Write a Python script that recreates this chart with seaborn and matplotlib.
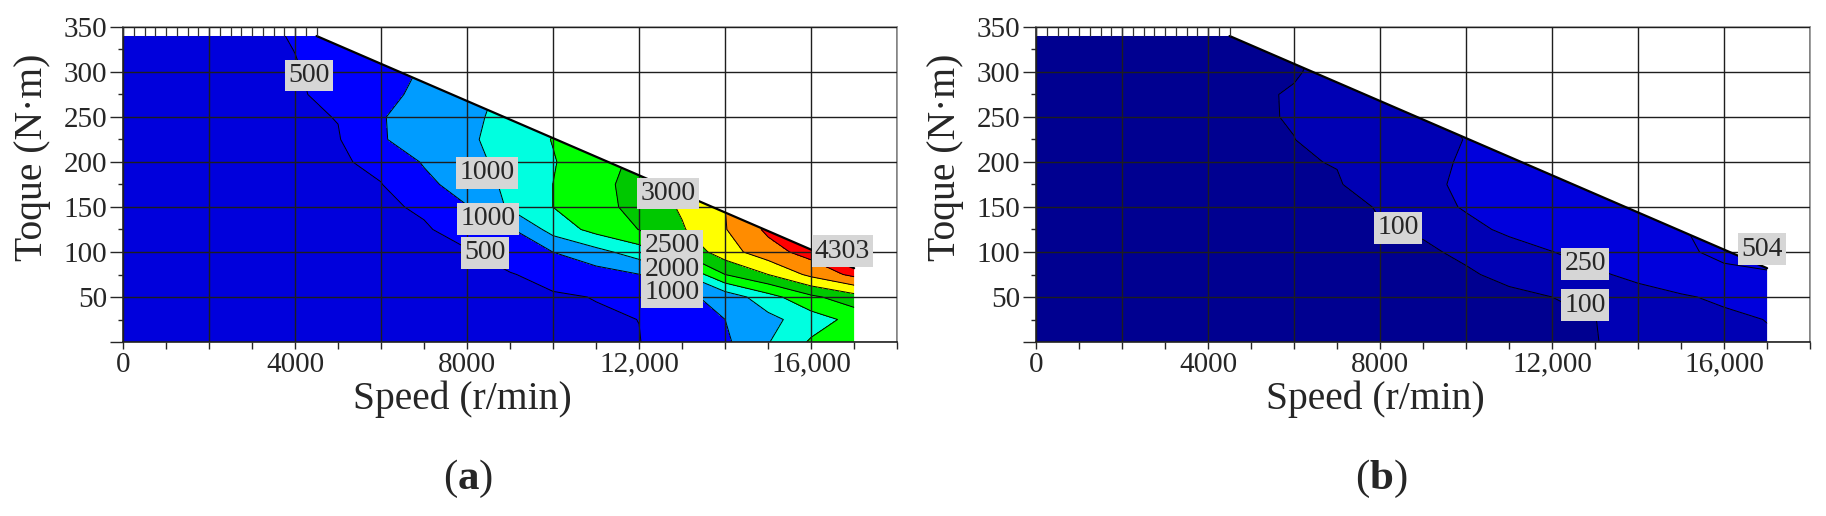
import numpy as np
import matplotlib
matplotlib.use("Agg")
import matplotlib.pyplot as plt
from matplotlib.patches import Polygon
from matplotlib.ticker import MultipleLocator, FuncFormatter
import seaborn as sns

# grid (speed in r/min, torque in N·m)
speed_rpm = [0, 1000, 2000, 3000, 4000, 5000, 6000, 7000, 8000,
             9000, 10000, 11000, 12000, 13000, 14000, 15000, 16000, 17000]
torque_nm = [0, 25, 50, 75, 100, 125, 150, 175, 200, 225, 250, 275, 300, 325, 350]

# (a) loss map, one row per torque value
loss_a = [
    [100, 133, 165, 198, 231, 263, 296, 329, 361, 394, 427, 459, 492, 677, 913, 1474, 2062, 2250],
    [100, 133, 167, 200, 234, 267, 300, 334, 367, 400, 434, 467, 502, 751, 1000, 1357, 1761, 2150],
    [100, 137, 173, 210, 246, 283, 319, 356, 392, 429, 465, 509, 694, 880, 1184, 1808, 2395, 2800],
    [100, 142, 185, 227, 269, 312, 354, 396, 438, 481, 606, 798, 990, 1452, 2500, 3000, 3625, 4130],
    [100, 147, 194, 241, 288, 335, 382, 429, 476, 668, 1003, 1334, 1750, 2583, 3278, 3800, 4200, 4350],
    [100, 153, 205, 258, 311, 363, 416, 468, 625, 938, 1688, 2169, 2509, 2955, 3474, 4100, 4300, 4400],
    [100, 158, 216, 274, 332, 390, 448, 543, 978, 1573, 2003, 2318, 2665, 3060, 3500, 4000, 4300, 4400],
    [100, 165, 229, 294, 358, 423, 487, 864, 1241, 1601, 2003, 2339, 2700, 3000, 3400, 3800, 4100, 4300],
    [100, 169, 238, 308, 377, 446, 603, 1045, 1348, 1656, 1969, 2321, 2600, 2900, 3200, 3500, 3800, 4100],
    [100, 174, 248, 322, 396, 470, 965, 1193, 1420, 1704, 2020, 2300, 2600, 2900, 3200, 3500, 3800, 4100],
    [100, 180, 261, 341, 422, 514, 972, 1201, 1415, 1620, 1900, 2200, 2500, 2800, 3100, 3400, 3700, 4000],
    [100, 188, 276, 364, 452, 614, 863, 1122, 1350, 1600, 1900, 2200, 2500, 2800, 3100, 3400, 3700, 4000],
    [100, 195, 289, 384, 478, 620, 800, 1050, 1300, 1600, 1900, 2200, 2500, 2800, 3100, 3400, 3700, 4000],
    [100, 201, 302, 404, 505, 650, 850, 1100, 1350, 1600, 1900, 2200, 2500, 2800, 3100, 3400, 3700, 4000],
    [100, 208, 316, 424, 540, 680, 880, 1130, 1380, 1630, 1930, 2230, 2530, 2830, 3130, 3430, 3730, 4030],
]

# (b) loss map
loss_b = [
    [20, 26, 32, 38, 44, 50, 56, 62, 68, 74, 80, 86, 92, 98, 120, 175, 205, 230],
    [20, 26, 32, 38, 44, 50, 56, 62, 68, 75, 81, 87, 93, 99, 132, 173, 214, 254],
    [20, 27, 33, 40, 47, 53, 60, 66, 73, 80, 86, 93, 100, 143, 187, 232, 280, 320],
    [20, 28, 35, 43, 50, 58, 66, 73, 81, 89, 96, 108, 175, 225, 290, 360, 440, 480],
    [20, 28, 37, 45, 53, 62, 70, 78, 87, 95, 106, 186, 247, 316, 385, 455, 560, 580],
    [20, 29, 39, 48, 57, 67, 76, 85, 98, 104, 205, 280, 340, 390, 430, 490, 560, 600],
    [20, 30, 40, 50, 60, 71, 81, 91, 102, 186, 265, 320, 370, 410, 450, 490, 530, 570],
    [20, 31, 42, 53, 64, 75, 86, 96, 125, 213, 280, 330, 370, 410, 450, 490, 530, 570],
    [20, 32, 44, 56, 68, 80, 96, 102, 160, 214, 265, 310, 350, 390, 430, 470, 510, 550],
    [20, 33, 46, 59, 72, 86, 99, 135, 175, 214, 253, 290, 330, 370, 410, 450, 490, 530],
    [20, 34, 48, 62, 76, 90, 105, 150, 190, 230, 265, 300, 340, 380, 420, 460, 500, 540],
    [20, 34, 48, 62, 76, 91, 105, 150, 190, 230, 270, 310, 350, 390, 430, 470, 510, 550],
    [20, 33, 45, 58, 70, 83, 95, 120, 160, 200, 240, 280, 320, 360, 400, 440, 480, 520],
    [20, 32, 44, 56, 68, 80, 92, 112, 150, 190, 230, 270, 310, 350, 390, 430, 470, 510],
    [20, 31, 42, 53, 64, 75, 86, 105, 140, 180, 220, 260, 300, 340, 380, 420, 460, 500],
]

# torque/speed envelope of the machine
envelope_speed = [0, 0, 4500, 17000, 17000]
envelope_torque = [0, 340, 340, 82, 0]

levels_a = [0, 500, 1000, 1500, 2000, 2500, 3000, 3500, 4000, 5000]
colors_a = ["#0000dc", "#0000ff", "#009cff", "#00ffe0", "#00ff00",
            "#00c800", "#ffff00", "#ff8c00", "#ff0000"]
lines_a = [500, 1000, 1500, 2000, 2500, 3000, 3500, 4000]
label_text_a = ["500", "1000", "1000", "500", "3000", "2500", "2000", "1000", "4303"]
label_speed_a = [4320, 8470, 8495, 8426, 12668, 12772, 12772, 12772, 16730]
label_torque_a = [296, 188, 137, 99, 165, 107, 81, 55, 101]

levels_b = [0, 100, 250, 500, 700]
colors_b = ["#000090", "#0000b4", "#0000dc", "#0000de"]
lines_b = [100, 250, 500]
label_text_b = ["100", "250", "100", "504"]
label_speed_b = [8426, 12767, 12767, 16876]
label_torque_b = [127, 87, 41, 103]

sns.set_style("ticks")
plt.rcParams["font.family"] = ["Liberation Serif", "DejaVu Serif"]
plt.rcParams["mathtext.fontset"] = "custom"
plt.rcParams["mathtext.rm"] = "Liberation Serif"
plt.rcParams["mathtext.bf"] = "Liberation Serif:bold"


def speed_fmt(v, pos):
    if v % 4000:
        return ""
    return "{:,.0f}".format(v) if v >= 10000 else "{:.0f}".format(v)


def torque_fmt(v, pos):
    return "" if v == 0 else "{:.0f}".format(v)


def draw_panel(ax, loss, levels, colors, lines, txt, spd, trq, tag):
    clip = Polygon(np.column_stack([envelope_speed, envelope_torque]), closed=True,
                   transform=ax.transData, fc="none", ec="none")
    cs = ax.contourf(speed_rpm, torque_nm, loss, levels=levels, colors=colors, zorder=1)
    cl = ax.contour(speed_rpm, torque_nm, loss, levels=lines, colors="black",
                    linewidths=0.7, zorder=1.5)
    cs.set_clip_path(clip)
    cl.set_clip_path(clip)
    ax.plot(envelope_speed[2:4], envelope_torque[2:4], color="black", lw=1.6, zorder=3)
    ax.vlines(np.arange(0, 4501, 250), 340, 350, color="#333333", lw=0.9, zorder=3)

    for t, s, q in zip(txt, spd, trq):
        ax.text(s, q, t, ha="center", va="center", fontsize=20, zorder=5,
                bbox=dict(boxstyle="square,pad=0.12", fc="#d6d6d6", ec="none"))

    ax.set_xlim(0, 18000)
    ax.set_ylim(0, 350)
    ax.xaxis.set_major_locator(MultipleLocator(2000))
    ax.xaxis.set_minor_locator(MultipleLocator(1000))
    ax.xaxis.set_major_formatter(FuncFormatter(speed_fmt))
    ax.yaxis.set_major_locator(MultipleLocator(50))
    ax.yaxis.set_minor_locator(MultipleLocator(25))
    ax.yaxis.set_major_formatter(FuncFormatter(torque_fmt))
    ax.tick_params(axis="x", which="both", length=5, width=1, labelsize=21, pad=2)
    ax.tick_params(axis="y", which="major", length=9.5, width=1, labelsize=21, pad=2)
    ax.tick_params(axis="y", which="minor", length=3.6, width=1)
    ax.set_axisbelow(False)
    ax.grid(True, which="major", color="#1e1e1e", lw=1.0)
    for side in ["top", "right"]:
        ax.spines[side].set_color("#8c8c8c")
    for side in ["left", "bottom"]:
        ax.spines[side].set_color("#222222")
    for sp in ax.spines.values():
        sp.set_linewidth(1.2)

    ax.set_xlabel("Speed (r/min)", fontsize=28.5)
    ax.xaxis.set_label_coords(0.438, -0.181)
    ax.xaxis.label.set_va("center")
    ax.set_ylabel("Toque (N·m)", fontsize=28.5)
    ax.yaxis.set_label_coords(-0.117, 0.587)
    ax.yaxis.label.set_va("center")
    ax.text(0.446, -0.435, r"($\mathbf{" + tag + "}$)", transform=ax.transAxes,
            ha="center", va="center", fontsize=31)


fig = plt.figure(figsize=(18.26, 5.16), dpi=100)
ax1 = fig.add_axes([0.0674, 0.3372, 0.4239, 0.6105])
ax2 = fig.add_axes([0.5674, 0.3372, 0.4239, 0.6105])

draw_panel(ax1, loss_a, levels_a, colors_a, lines_a,
           label_text_a, label_speed_a, label_torque_a, "a")
draw_panel(ax2, loss_b, levels_b, colors_b, lines_b,
           label_text_b, label_speed_b, label_torque_b, "b")

fig.savefig("out.png", dpi=100)
